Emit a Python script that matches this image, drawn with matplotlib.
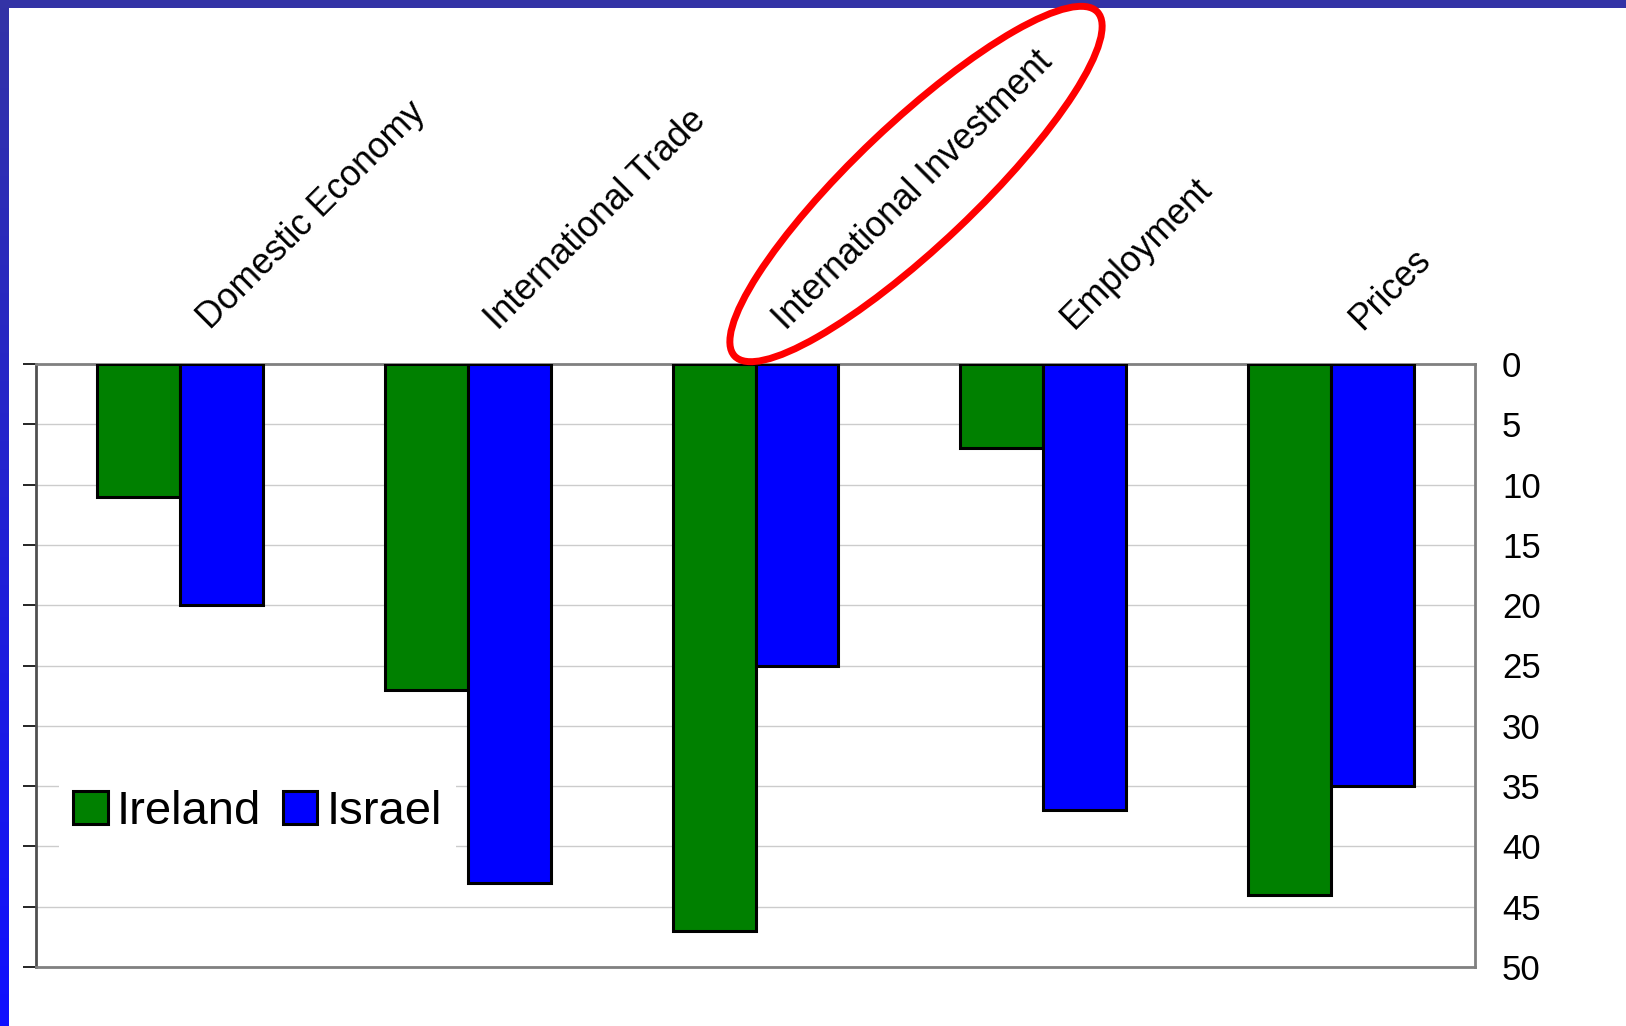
import numpy as np
import matplotlib
matplotlib.use("Agg")
import matplotlib.pyplot as plt
from matplotlib.patches import Ellipse, Rectangle

plt.rcParams['font.family'] = ['Liberation Sans', 'DejaVu Sans']

categories = ['Domestic Economy', 'International Trade', 'International Investment',
              'Employment', 'Prices']
ireland = [11, 27, 47, 7, 44]
israel = [20, 43, 25, 37, 35]
yticks = [0, 5, 10, 15, 20, 25, 30, 35, 40, 45, 50]

fig = plt.figure(figsize=(16.26, 10.26), dpi=100)
fig.patch.set_facecolor('white')

# slide frame: blue strip on top, gradient strip on the left
fig.add_artist(Rectangle((0, 1 - 8 / 1026), 1, 8 / 1026, transform=fig.transFigure,
                         facecolor='#3333a6', edgecolor='none', zorder=5))
edge = fig.add_axes([0, 0, 8 / 1626, 1])
grad = np.linspace(0, 1, 256)[:, None, None]
top = np.array([0x33, 0x33, 0xa6]) / 255
bottom = np.array([0x10, 0x10, 0xff]) / 255
edge.imshow(top + (bottom - top) * grad, aspect='auto', extent=[0, 1, 0, 1])
edge.axis('off')

ax = fig.add_axes([36 / 1626, 59 / 1026, 1439 / 1626, 603 / 1026])
x = np.arange(len(categories))
w = 0.288
ax.bar(x - w / 2, ireland, w, color='#008000', edgecolor='black', linewidth=2.2,
       label='Ireland', zorder=3)
ax.bar(x + w / 2, israel, w, color='#0000ff', edgecolor='black', linewidth=2.2,
       label='Israel', zorder=3)

ax.set_xlim(-0.5, len(categories) - 0.5)
ax.set_ylim(50, 0)
ax.set_xticks([])
ax.set_yticks(yticks)
ax.set_yticklabels([str(t) for t in yticks], fontsize=25, ha='left')
ax.tick_params(axis='y', left=True, right=False, labelleft=False, labelright=True,
               direction='out', length=9.4, width=1.2, pad=10)
ax.yaxis.grid(True, color='#cccccc', linewidth=1)
ax.set_axisbelow(True)
ax.spines['left'].set_color('#505050')
ax.spines['left'].set_linewidth(2)
for s in ['top', 'right', 'bottom']:
    ax.spines[s].set_color('#808080')
    ax.spines[s].set_linewidth(2)

for i, name in enumerate(categories):
    ax.annotate(name, xy=(i, 1), xycoords=('data', 'axes fraction'),
                xytext=(22, 24), textcoords='offset points', rotation=45,
                rotation_mode='anchor', ha='left', va='baseline', fontsize=25.6)

leg = ax.legend(loc='center left', bbox_to_anchor=(0.016, 0.257), borderaxespad=0,
                ncol=2, fontsize=34, handlelength=0.73, handleheight=0.67,
                handletextpad=0.2, columnspacing=0.45, borderpad=0.3,
                frameon=True, fancybox=False, framealpha=1)
leg.get_frame().set_edgecolor('none')
leg.get_frame().set_facecolor('white')
for h in leg.legend_handles:
    h.set_linewidth(2.2)

# red ring around the highlighted category
fig.add_artist(Ellipse((9.16, 8.42), 5.0, 1.22, angle=43.5, transform=fig.dpi_scale_trans,
                       fill=False, edgecolor='#ff0000', linewidth=5, zorder=6))

fig.savefig('out.png', dpi=100)
